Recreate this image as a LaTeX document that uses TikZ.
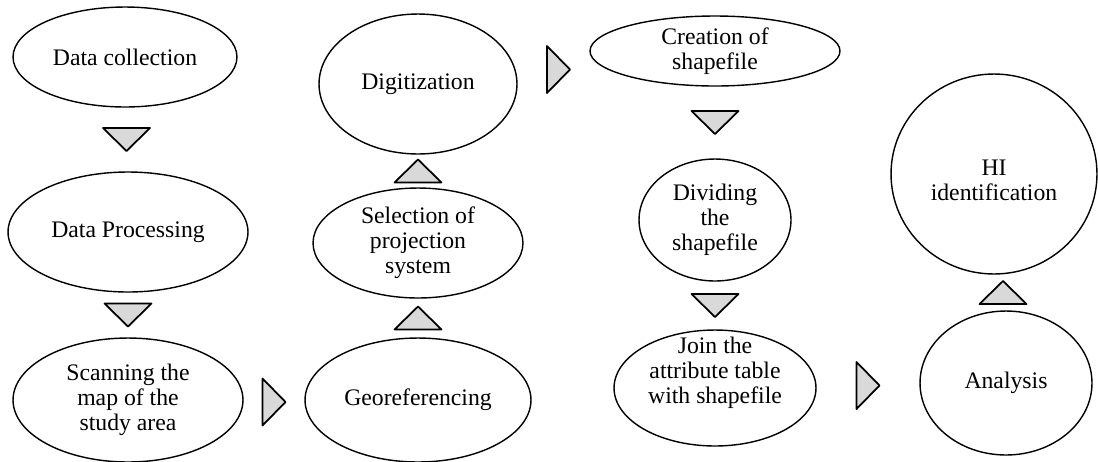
\documentclass[tikz,border=0pt]{standalone}
\usepackage{fontspec}
\setmainfont{Liberation Serif}
\usepackage{tikz}
\usetikzlibrary{shapes.geometric}
\usetikzlibrary{calc}
\tikzset{
  stagetext/.style={inner sep=0pt, align=center, font=\fontsize{13.5}{14.2}\selectfont},
  stage/.style={draw, ellipse, line width=0.8pt, stagetext},
  pics/flowtri/.style={code={
    \draw[line width=1pt, line join=round, fill=gray!30] (-23.5,-11.5) -- (23.5,-11.5) -- (0,11.5) -- cycle;
  }}
}

\begin{document}
\begin{tikzpicture}[x=0.02cm, y=-0.02cm]
\useasboundingbox (0,0) rectangle (1098,461);
% first column
\node[stage, minimum width=4.48cm, minimum height=2.0cm] (collect) at (125,57) {Data collection};
\node[stage, minimum width=4.8cm, minimum height=2.4cm] (process) at (128,232) {Data Processing};
\node[stage, minimum width=4.6cm, minimum height=2.48cm] (scan) at (128,400) {Scanning the\\map of the\\study area};
% second column
\node[stage, minimum width=3.96cm, minimum height=2.8cm] (digit) at (418,84) {Digitization};
\node[stage, minimum width=4.2cm, minimum height=2.2cm] (select) at (418,243) {Selection of\\projection\\system};
\node[stage, minimum width=4.52cm, minimum height=2.48cm] (georef) at (418,400) {Georeferencing};
% third column
\node[stage, minimum width=5.0cm, minimum height=1.4cm] (create) at (715,51) {Creation of\\shapefile};
\node[stage, minimum width=3.04cm, minimum height=2.44cm] (divide) at (715,220) {Dividing\\the\\shapefile};
\node[stage, minimum width=4.04cm, minimum height=2.32cm] (join) at (715,388) {};
\node[stagetext] (jointext) at ($(join)+(0,-15)$) {Join the\\attribute table\\with shapefile};
% last column
\node[stage, minimum width=4.12cm, minimum height=4.0cm] (hiid) at (994,174) {};
\node[stagetext] (hitext) at ($(hiid)+(0,6)$) {HI\\identification};
\node[stage, minimum width=3.44cm, minimum height=2.88cm] (analysis) at (1006,383) {Analysis};
% triangles between the stages
\pic at ($(collect.south)!0.5!(process.north)$) {flowtri};
\pic at ($(process.south)!0.5!(scan.north)$) {flowtri};
\pic[rotate=90] at ($(scan.east)!0.5!(georef.west)+(0,2)$) {flowtri};
\pic[rotate=180] at ($(georef.north)!0.5!(select.south)$) {flowtri};
\pic[rotate=180] at ($(select.north)!0.5!(digit.south)$) {flowtri};
\pic[rotate=90] at ($(digit.east)!0.5!(create.west)+(5,2)$) {flowtri};
\pic at ($(create.south)!0.5!(divide.north)$) {flowtri};
\pic at ($(divide.south)!0.5!(join.north)$) {flowtri};
\pic[rotate=90] at ($(join.east)!0.5!(analysis.west)$) {flowtri};
\pic[rotate=180] at ($(analysis.north)!0.5!(hiid.south)+(3,0)$) {flowtri};
\end{tikzpicture}
\end{document}
